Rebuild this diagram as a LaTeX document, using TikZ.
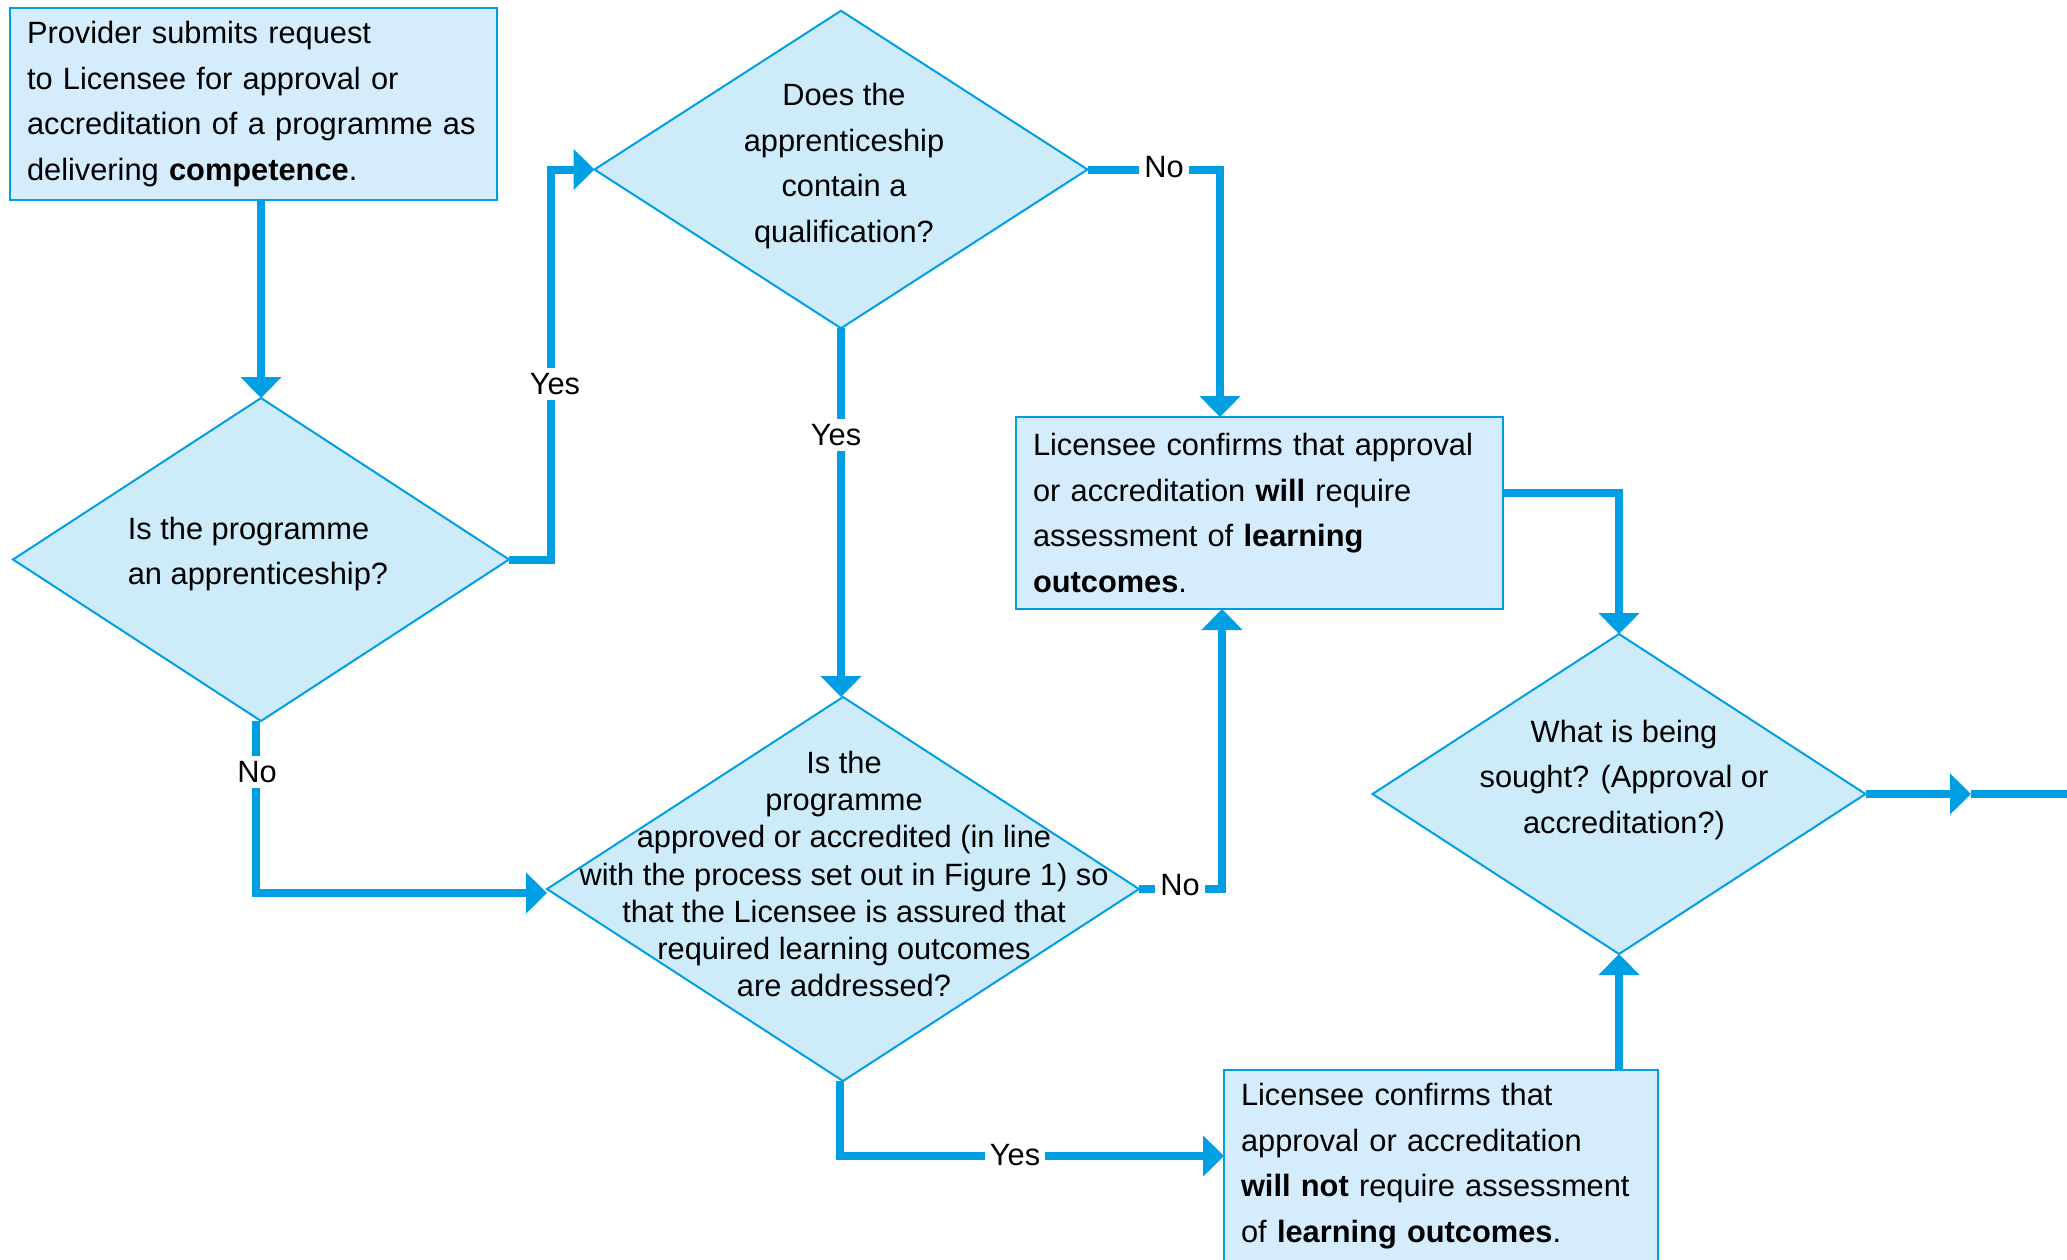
\documentclass[tikz,border=0pt]{standalone}
\usepackage{fontspec}
\setmainfont{Liberation Sans}
\usetikzlibrary{shapes.geometric,arrows.meta}
\definecolor{lineblue}{HTML}{009FE3}
\definecolor{boxfill}{HTML}{D4ECFB}
\definecolor{diafill}{HTML}{CDEBF8}
\begin{document}
\begin{tikzpicture}[x=0.5pt,y=-0.5pt,
  every node/.style={font=\fontsize{15.4}{22.7}\selectfont, outer sep=0pt},
  procbox/.style={draw=lineblue, line width=1pt, fill=boxfill, align=left,
    inner xsep=8.5pt, inner ysep=0pt, minimum height=96pt},
  decision/.style={diamond, draw=lineblue, line width=1pt, fill=diafill, inner sep=0pt},
  conn/.style={draw=lineblue, line width=4pt, -{Triangle[width=20pt,length=10.5pt]}},
  plain/.style={draw=lineblue, line width=4pt},
  lbl/.style={fill=white, inner sep=2.5pt},
  dtext/.style={align=center, inner sep=0pt}
]
\useasboundingbox (0,0) rectangle (2067,1259);

% process boxes
\node[procbox, text width=226.5pt] (b1) at (253.5,104)
  {Provider submits request\\to Licensee for approval or\\accreditation of a programme as\\delivering \textbf{competence}.};
\node[procbox, text width=226.5pt] (b2) at (1259.5,513)
  {Licensee confirms that approval\\or accreditation \textbf{will} require\\assessment of \textbf{learning}\\\textbf{outcomes}.};
\node[procbox, text width=200pt] (b3) at (1441,1166)
  {Licensee confirms that\\approval or accreditation\\\textbf{will not} require assessment\\of \textbf{learning outcomes}.};

% decisions
\node[decision, minimum width=248pt, minimum height=161.5pt] (d1) at (261,559.5) {};
\node[decision, minimum width=246.5pt, minimum height=158.75pt] (d2) at (841,169.5) {};
\node[decision, minimum width=296pt, minimum height=192pt] (d3) at (843,889) {};
\node[decision, minimum width=246.5pt, minimum height=160pt] (d4) at (1619,794) {};

\node[align=left, inner sep=0pt] (d1t) at (258,554) {Is the programme\\an apprenticeship?};
\node[dtext] (d2t) at (844,166) {Does the\\apprenticeship\\contain a\\qualification?};
\node[dtext, font=\fontsize{15.4}{18.65}\selectfont] (d3t) at (844,874)
  {Is the\\programme\\approved or accredited (in line\\with the process set out in Figure 1) so\\that the Licensee is assured that\\required learning outcomes\\are addressed?};
\node[dtext] (d4t) at (1624,780) {What is being\\sought? (Approval or\\accreditation?)};

% connectors
\draw[conn] (b1.south -| d1.north) -- (d1.north);
\draw[conn] (d1.east) -- ++(42,0) |- (d2.west);
\draw[conn] (d2.east) -| ([xshift=-19.75pt]b2.north);
\draw[conn] (d2.south) -- (d2.south |- d3.north);
\draw[conn] ([xshift=-2.5pt]d1.south) |- ([yshift=-2pt]d3.west);
\draw[conn] (d3.east) -| ([xshift=-18.75pt]b2.south);
\draw[conn] ([xshift=-1.5pt]d3.south) |- ([yshift=5pt]b3.west);
\draw[conn] ([yshift=10pt]b2.east) -| (d4.north);
\draw[conn] ([xshift=89pt]b3.north) -- (d4.south);
\coordinate (jtip) at (1971,794);
\coordinate (jend) at (2067,794);
\draw[plain] (jtip) -- (jend);
\draw[conn] (d4.east) -- (jtip);

% labels
\node[lbl] (l1) at (555,384) {Yes};
\node[lbl] (l2) at (836,435) {Yes};
\node[lbl] (l3) at (1164,167) {No};
\node[lbl] (l4) at (257,772) {No};
\node[lbl] (l5) at (1180,885) {No};
\node[lbl] (l6) at (1015,1155) {Yes};
\end{tikzpicture}
\end{document}
